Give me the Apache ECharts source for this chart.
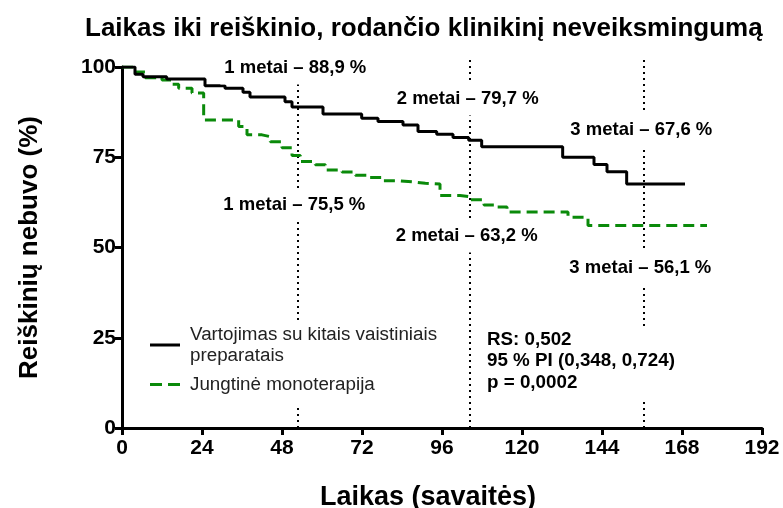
<!DOCTYPE html>
<html>
<head>
<meta charset="utf-8">
<script src="https://cdn.jsdelivr.net/npm/echarts@6/dist/echarts.min.js"></script>
<style>
  html, body { margin: 0; padding: 0; background: #fff; }
  #main { width: 783px; height: 508px; }
</style>
</head>
<body>
<div id="main"></div>
<script>
// duomenys (savaitės, išgyvenamumas %)
var blackT = [0, 3.9, 6.3, 13.4, 24.9, 30.9, 36.3, 38.4, 48.9, 51, 60.3, 71.9, 76.8, 84.3, 88.8, 94.4, 99.3, 104, 107.9, 132.2, 141.6, 145.5, 151.4, 168.9];
var blackS = [100, 98, 97.3, 96.7, 94.8, 94.1, 93, 91.7, 90.4, 88.9, 87, 85.8, 84.9, 83.9, 82.1, 81.4, 80.5, 79.7, 77.9, 75, 73, 71, 67.6, 67.6];
var greenT = [0, 3.5, 7, 12, 15, 17, 21, 24.5, 35, 37.5, 42, 44.5, 48, 51, 53.5, 58, 61, 66, 70, 74, 78, 83, 87, 91, 95.4, 101.4, 104, 108.6, 112, 115.5, 133.8, 139.8, 175.5];
var greenS = [100, 98.6, 97, 96.4, 95.2, 94.1, 92.8, 85.3, 83.5, 81.2, 80.7, 79.3, 77.6, 75.5, 73.8, 72.9, 71.5, 70.9, 70, 69.4, 68.5, 68.2, 67.8, 67.6, 64.4, 64.1, 63.2, 61.8, 61.2, 59.8, 58.4, 56.1, 56.1];
var yearWeeks = [52.6, 104.3, 156.4];
var blackLabels = ['1 metai – 88,9 %', '2 metai – 79,7 %', '3 metai – 67,6 %'];
var greenLabels = ['1 metai – 75,5 %', '2 metai – 63,2 %', '3 metai – 56,1 %'];
var seriesNames = ['Vartojimas su kitais vaistiniais\npreparatais', 'Jungtinė monoterapija'];
var statsText = ['RS: 0,502', '95 % PI (0,348, 0,724)', 'p = 0,0002'];

var FONT = "'Liberation Sans', Arial, sans-serif";

function pairs(t, s) {
  var out = [];
  for (var i = 0; i < t.length; i++) out.push([t[i], s[i]]);
  return out;
}

var myChart = echarts.init(document.getElementById('main'));

// vertikalios punktyrinės linijos ties 1, 2, 3 metais (šiek tiek virš 100)
var yearLines = yearWeeks.map(function (w) {
  return [{ coord: [w, 0] }, { coord: [w, 102.5] }];
});

var option = {
  animation: false,
  textStyle: { fontFamily: FONT },
  title: {
    text: 'Laikas iki reiškinio, rodančio klinikinį neveiksmingumą',
    left: 80,
    top: 11,
    textStyle: { fontFamily: FONT, fontSize: 26, fontWeight: 'bold', color: '#000' }
  },
  grid: [
    { left: 122, right: 21, top: 67, bottom: 80, outerBoundsMode: 'none' },
    { left: 122, right: 21, top: 58, bottom: 80, outerBoundsMode: 'none' }
  ],
  legend: {
    orient: 'vertical',
    left: 144,
    top: 320,
    z: 10,
    itemWidth: 30,
    itemHeight: 14,
    itemGap: 8,
    padding: [4, 6, 10, 6],
    backgroundColor: '#fff',
    data: [
      { name: seriesNames[0], icon: 'path://M0,0L30,0L30,3L0,3Z' },
      { name: seriesNames[1], icon: 'path://M0,0L12,0L12,3L0,3Z M18,0L30,0L30,3L18,3Z' }
    ],
    textStyle: { fontFamily: FONT, fontSize: 18.8, color: '#222', lineHeight: 21, padding: [0, 0, 0, 5] }
  },
  xAxis: [
    {
      type: 'value',
      gridIndex: 0,
      min: 0,
      max: 192,
      interval: 24,
      name: 'Laikas (savaitės)',
      nameLocation: 'middle',
      nameGap: 56,
      nameTextStyle: { fontFamily: FONT, fontSize: 27, fontWeight: 'bold', color: '#000', padding: [0, 28, 0, 0] },
      axisLine: { lineStyle: { color: '#000', width: 3 } },
      axisTick: { length: 7, lineStyle: { color: '#000', width: 3 } },
      axisLabel: { fontFamily: FONT, fontSize: 21, fontWeight: 'bold', color: '#000', margin: 10 },
      splitLine: { show: false }
    },
    { type: 'value', gridIndex: 1, min: 0, max: 192, show: false }
  ],
  yAxis: [
    {
      type: 'value',
      gridIndex: 0,
      min: 0,
      max: 100,
      interval: 25,
      name: 'Reiškinių nebuvo (%)',
      nameLocation: 'middle',
      nameGap: 79,
      nameTextStyle: { fontFamily: FONT, fontSize: 26, fontWeight: 'bold', color: '#000' },
      axisLine: { show: true, lineStyle: { color: '#000', width: 3 } },
      axisTick: { show: true, length: 7, lineStyle: { color: '#000', width: 3 } },
      axisLabel: { fontFamily: FONT, fontSize: 21, fontWeight: 'bold', color: '#000', margin: 6 },
      splitLine: { show: false }
    },
    { type: 'value', gridIndex: 1, min: 0, max: 102.5, show: false }
  ],
  series: [
    {
      name: 'metai',
      type: 'line',
      xAxisIndex: 1,
      yAxisIndex: 1,
      data: [],
      markLine: {
        silent: true,
        z: 1,
        symbol: 'none',
        label: { show: false },
        lineStyle: { color: '#000', width: 2, type: [2, 4] },
        data: yearLines
      },
      z: 1
    },
    {
      name: seriesNames[0],
      type: 'line',
      step: 'end',
      symbol: 'none',
      data: pairs(blackT, blackS),
      lineStyle: { color: '#000', width: 3 },
      itemStyle: { color: '#000' },
      z: 3
    },
    {
      name: seriesNames[1],
      type: 'line',
      step: 'end',
      symbol: 'none',
      data: pairs(greenT, greenS),
      lineStyle: { color: '#0a8a0a', width: 3, type: [11, 6] },
      itemStyle: { color: '#0a8a0a' },
      z: 2
    }
  ]
};

myChart.setOption(option);

// užrašai ties metų linijomis
function yearLabel(text, x, y) {
  return {
    type: 'text',
    z: 50,
    x: x,
    y: y,
    style: {
      text: text,
      fontFamily: FONT,
      fontSize: 18.5,
      fontWeight: 'bold',
      fill: '#000',
      align: 'center',
      verticalAlign: 'middle',
      backgroundColor: '#fff',
      padding: [7, 4]
    }
  };
}

var graphics = [];
var blackY = [68, 99, 130];
var greenY = [205, 236, 268];
for (var i = 0; i < yearWeeks.length; i++) {
  var px = myChart.convertToPixel({ gridIndex: 0 }, [yearWeeks[i], 0])[0];
  graphics.push(yearLabel(blackLabels[i], px - 2, blackY[i]));
  graphics.push(yearLabel(greenLabels[i], px - 3, greenY[i]));
}
graphics.push({
  type: 'text',
  z: 50,
  x: 485,
  y: 329,
  style: {
    text: statsText.join('\n'),
    fontFamily: FONT,
    fontSize: 18.8,
    fontWeight: 'bold',
    fill: '#000',
    lineHeight: 21.5,
    backgroundColor: '#fff',
    padding: [0, 4, 6, 2]
  }
});

myChart.setOption({ graphic: graphics });
</script>
</body>
</html>
